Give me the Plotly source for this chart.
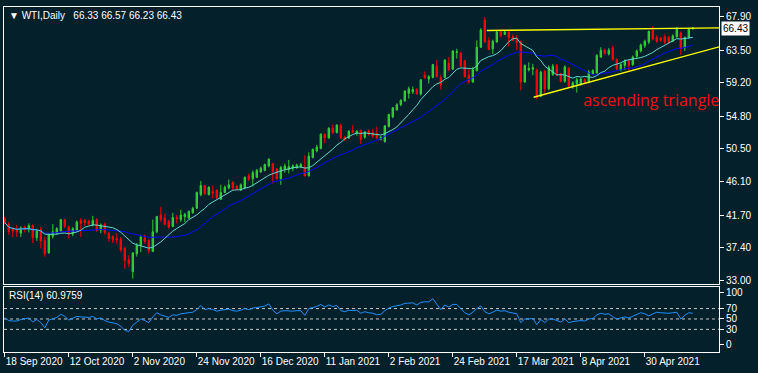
import plotly.graph_objects as go
import pandas as pd

# ---------------- data ----------------
tick_labels = ["18 Sep 2020", "12 Oct 2020", "2 Nov 2020", "24 Nov 2020", "16 Dec 2020",
               "11 Jan 2021", "2 Feb 2021", "24 Feb 2021", "17 Mar 2021", "8 Apr 2021",
               "30 Apr 2021"]
price_ticks = [67.90, 63.50, 59.20, 54.80, 50.50, 46.10, 41.70, 37.40, 33.00]
rsi_ticks = [100, 70, 50, 30, 0]
rsi_levels = [70, 50, 30]

opens = [41.2,40.5,39.8,39.7,39.3,40.1,39.8,40.3,38.7,39.8,
         38.3,36.7,38.9,39.3,39.6,41.1,40.1,39.2,39.7,41.0,
         41.0,40.9,40.4,41.1,39.7,40.5,39.3,38.9,38.6,38.5,
         37.3,35.8,34.2,36.6,37.7,38.7,38.3,36.9,39.5,41.7,
         41.3,40.9,40.2,41.4,41.1,41.5,41.3,42.0,42.6,44.4,
         45.6,44.4,44.8,45.0,43.8,44.7,45.3,46.0,45.5,45.0,
         45.3,46.9,46.5,46.7,47.4,47.6,48.2,48.5,47.8,46.5,
         47.8,47.7,47.9,48.0,48.1,48.0,46.9,49.3,50.2,50.5,
         52.4,51.9,53.2,52.6,53.6,52.0,51.9,52.9,52.5,52.9,
         52.0,52.8,52.6,52.5,51.7,51.4,53.4,54.7,55.6,56.3,
         56.8,57.8,58.0,58.3,57.7,60.2,59.7,59.9,61.4,59.9,
         59.9,61.8,61.0,63.2,63.1,62.1,60.2,59.3,60.8,63.9,
         67.5,64.8,63.7,64.6,65.9,65.6,65.9,65.3,65.1,64.6,
         59.3,60.9,61.0,60.9,57.4,60.7,58.4,60.3,61.5,60.4,
         59.4,61.1,58.7,59.1,59.0,59.6,59.3,60.4,60.5,62.6,
         63.5,63.0,63.8,62.3,60.9,61.5,62.1,61.6,62.7,63.4,
         64.1,64.6,66.1,65.2,65.1,65.3,65.2,64.7,65.3,65.8,
         63.8,65.2,66.33]
highs = [41.5,40.8,40.1,40.4,40.2,40.3,40.6,40.5,39.9,40.1,
         38.8,39.3,40.5,40.1,41.2,41.2,40.3,40.1,41.0,41.3,
         41.2,41.1,41.6,41.3,40.6,40.7,39.5,39.0,39.3,38.8,
         37.5,36.4,36.8,38.0,39.1,39.1,38.5,41.1,41.6,42.8,
         41.9,41.1,42.0,41.7,42.4,42.0,42.3,42.8,44.8,46.2,
         45.7,45.5,45.6,45.1,45.7,45.6,46.4,46.2,45.7,45.9,
         46.8,47.2,47.6,47.8,48.1,48.5,49.2,48.6,47.9,48.2,
         48.5,49.0,48.4,48.5,48.6,49.6,50.0,50.5,51.0,52.5,
         52.5,53.3,53.7,53.7,53.8,52.2,52.9,53.6,52.9,53.0,
         52.8,53.0,53.1,53.4,52.2,53.6,55.1,56.0,56.5,57.0,
         58.2,58.7,58.7,58.5,59.7,60.7,60.2,61.7,62.2,60.2,
         62.3,62.6,63.5,63.7,63.3,62.2,61.0,61.3,64.8,66.4,
         67.9,65.2,64.9,66.1,66.2,66.1,66.1,65.6,65.5,64.8,
         61.6,61.9,61.7,61.1,60.8,60.9,61.5,61.7,61.7,60.5,
         61.5,61.3,59.4,59.9,59.8,59.8,60.9,61.0,63.0,63.9,
         63.7,63.8,64.1,62.4,61.8,62.3,62.3,62.8,63.6,64.4,
         64.9,66.1,66.7,65.5,65.3,65.6,65.4,65.6,66.6,66.0,
         65.3,66.4,66.57]
lows = [40.5,39.1,38.8,38.8,38.8,39.4,39.4,38.0,38.3,37.3,
        36.2,36.6,38.6,39.1,39.5,40.0,38.6,38.9,39.5,38.8,
        40.3,40.3,40.2,39.5,39.3,39.1,38.2,38.0,37.9,36.8,
        34.6,34.8,33.3,36.2,36.8,37.9,36.6,36.8,39.3,40.8,
        40.4,39.9,40.1,40.6,40.8,40.8,41.2,41.9,42.5,44.2,
        44.4,44.3,43.9,43.8,43.7,44.6,45.1,44.9,45.0,44.9,
        45.1,46.2,45.5,46.6,47.3,47.5,48.0,45.9,46.4,45.7,
        47.3,47.2,47.5,47.8,47.9,46.8,46.8,49.2,50.0,50.4,
        51.2,51.8,52.4,52.5,51.8,51.5,51.8,52.5,52.2,51.1,
        51.8,52.2,51.9,51.8,51.6,51.3,53.3,54.5,55.5,56.1,
        56.7,57.1,57.7,57.6,57.5,59.7,59.1,59.8,59.9,58.3,
        59.8,60.7,60.9,62.4,61.3,59.9,59.1,59.2,60.7,63.8,
        64.5,63.5,63.0,64.5,65.2,65.5,64.0,64.7,63.5,58.2,
        59.2,60.7,60.2,57.0,57.3,57.9,58.2,60.1,60.1,59.2,
        59.2,58.5,58.4,57.9,58.8,59.0,59.1,60.2,60.4,62.5,
        62.9,62.8,62.1,60.8,60.7,60.9,60.6,61.4,62.5,63.2,
        63.8,64.3,64.8,64.5,64.6,64.3,64.4,64.6,65.1,62.9,
        63.4,65.0,66.23]
closes = [40.7,39.5,39.6,39.5,40.0,39.8,40.3,38.7,39.6,38.3,
          36.6,39.1,39.5,39.9,41.1,40.2,39.2,39.9,40.8,40.6,
          40.7,40.6,41.0,39.7,40.4,39.4,38.6,38.4,38.4,37.1,
          35.7,35.3,36.7,37.7,38.8,38.2,37.0,39.5,41.5,41.1,
          40.5,40.1,41.4,41.2,41.7,41.8,42.2,42.6,44.7,45.6,
          44.5,45.4,44.6,44.0,44.7,45.4,45.7,45.3,45.2,45.7,
          46.7,46.4,47.3,47.6,47.9,48.4,49.1,47.5,46.5,48.0,
          48.2,48.1,48.2,48.3,48.4,46.9,49.5,50.4,50.7,52.4,
          51.9,53.2,52.6,53.6,51.9,51.7,52.8,52.7,52.8,51.7,
          52.7,52.4,52.2,51.9,52.0,53.5,55.0,55.9,56.3,56.9,
          58.1,58.4,58.3,57.7,59.6,59.9,60.0,61.6,60.0,58.9,
          62.2,60.9,63.4,63.3,61.4,60.0,59.3,60.9,63.9,66.2,
          64.6,63.6,64.7,65.9,65.4,65.9,65.2,64.8,64.5,59.3,
          61.5,61.1,61.2,57.3,60.6,58.4,61.2,61.4,60.5,59.4,
          61.3,58.8,59.2,59.6,59.7,59.2,60.6,60.8,62.8,63.5,
          63.1,63.5,62.3,61.0,61.6,62.1,61.5,62.6,63.4,64.2,
          64.7,66.0,65.0,64.7,64.8,64.6,64.6,65.4,66.3,63.7,
          65.2,66.3,66.43]
rsi = [52,47,46,46,49,50,52,44,49,43,
       33,48,50,53,59,55,48,51,55,54,
       54,53,55,50,52,47,44,42,41,36,
       28,26,38,44,50,47,43,54,62,58,
       55,53,58,57,60,61,62,63,68,76,
       68,70,68,65,67,68,69,66,65,67,
       70,68,71,72,73,75,79,67,60,65,
       66,65,65,66,66,57,70,72,74,78,
       73,77,74,76,66,64,67,66,67,61,
       64,62,61,58,59,66,71,74,75,77,
       80,80,81,77,82,83,83,89,79,68,
       77,73,78,78,70,62,58,63,70,75,
       64,60,63,67,65,66,63,62,60,43,
       50,50,51,39,49,43,50,50,47,44,
       50,43,45,46,47,46,50,51,58,61,
       59,60,54,50,52,54,52,55,58,62,
       60,56,60,63,62,61,61,62,63,50,
       57,62,60.9759]

# drawn trendlines (bar index, price)
upper_line_x = [120.5, 178.8]
upper_line_y = [66.12, 66.46]
lower_line_x = [132.2, 178.8]
lower_line_y = [57.28, 63.98]
label_x = [144.6]
label_y = [56.65]
label_text = ["ascending triangle"]

header_text = "\u25BC WTI,Daily\u00a0\u00a0 66.33 66.57 66.23 66.43"
rsi_text = "RSI(14) 60.9759"
last_price = closes[-1]

# ---------------- figure ----------------
BG = "#03202b"
FONT = "Liberation Sans"
idx = list(range(len(closes)))
ma_fast = pd.Series(closes).rolling(10, min_periods=1).mean()
ma_slow = pd.Series(closes).rolling(20, min_periods=1).mean()

fig = go.Figure()
fig.add_trace(go.Candlestick(
    x=idx, open=opens, high=highs, low=lows, close=closes,
    increasing=dict(line=dict(color="#32cd32", width=1), fillcolor="#32cd32"),
    decreasing=dict(line=dict(color="#ff0000", width=1), fillcolor="#ff0000"),
    whiskerwidth=0, xaxis="x", yaxis="y", hoverinfo="skip"))
fig.add_trace(go.Scatter(x=idx, y=ma_slow, mode="lines", line=dict(color="#0a0aff", width=1),
                         xaxis="x", yaxis="y", hoverinfo="skip"))
fig.add_trace(go.Scatter(x=idx, y=ma_fast, mode="lines", line=dict(color="#5fd9cf", width=1),
                         xaxis="x", yaxis="y", hoverinfo="skip"))
fig.add_trace(go.Scatter(x=upper_line_x, y=upper_line_y, mode="lines",
                         line=dict(color="#ffff00", width=1.4), cliponaxis=True,
                         xaxis="x", yaxis="y", hoverinfo="skip"))
fig.add_trace(go.Scatter(x=lower_line_x, y=lower_line_y, mode="lines",
                         line=dict(color="#ffff00", width=1.4), cliponaxis=True,
                         xaxis="x", yaxis="y", hoverinfo="skip"))
fig.add_trace(go.Scatter(x=label_x, y=label_y, mode="text", text=label_text,
                         textposition="middle right", cliponaxis=True,
                         textfont=dict(family="Open Sans", size=16, color="#f01010"),
                         xaxis="x", yaxis="y", hoverinfo="skip"))
fig.add_trace(go.Scatter(x=idx, y=rsi, mode="lines", line=dict(color="#1e90ff", width=1),
                         xaxis="x2", yaxis="y2", hoverinfo="skip"))

xr = [-0.2, 178.55]
axis_common = dict(showgrid=False, zeroline=False, showline=True, mirror=True,
                   linecolor="white", linewidth=1, tickcolor="white", automargin=False,
                   tickfont=dict(family=FONT, size=10, color="white"))

shapes = [dict(type="line", xref="paper", x0=0, x1=1, yref="y2", y0=lv, y1=lv,
               line=dict(color="#c8c8c8", width=1, dash="3px,3px"), layer="below")
          for lv in rsi_levels]

fig.update_layout(
    width=758, height=373, margin=dict(l=4, r=39, t=7, b=21, autoexpand=False),
    paper_bgcolor=BG, plot_bgcolor=BG, showlegend=False, boxgap=0.5,
    xaxis=dict(domain=[0, 1], range=xr, anchor="y", showticklabels=False, ticks="",
               rangeslider=dict(visible=False), **axis_common),
    yaxis=dict(domain=[0.197, 1], range=[32.58, 69.22], anchor="x", side="right",
               tickvals=price_ticks, ticktext=[f"{v:.2f}" for v in price_ticks],
               ticks="outside", ticklen=4, **axis_common),
    xaxis2=dict(domain=[0, 1], range=xr, matches="x", anchor="y2",
                tickvals=[16 * k for k in range(len(tick_labels))], ticktext=tick_labels,
                ticks="outside", ticklen=4, ticklabelposition="outside right",
                tickangle=0, **axis_common),
    yaxis2=dict(domain=[0, 0.1884], range=[-13.5, 111.5], anchor="x2", side="right",
                tickvals=rsi_ticks, ticktext=[str(v) for v in rsi_ticks],
                ticks="outside", ticklen=4, **axis_common),
    shapes=shapes,
    annotations=[
        dict(xref="paper", yref="paper", x=0, y=1, xanchor="left", yanchor="top",
             xshift=3, yshift=-1, text=header_text, showarrow=False,
             font=dict(family=FONT, size=10, color="white")),
        dict(xref="paper", yref="y2 domain", x=0, y=1, xanchor="left", yanchor="top",
             xshift=3, yshift=-1, text=rsi_text, showarrow=False,
             font=dict(family=FONT, size=10, color="white")),
        dict(xref="paper", yref="y", x=1, y=last_price, xanchor="left", yanchor="middle",
             xshift=2, text=f"{last_price:.2f}", showarrow=False, bgcolor="white",
             borderpad=1, font=dict(family=FONT, size=10, color="black")),
    ],
)

fig.write_html("out.html", config={"displayModeBar": False},
               post_script="document.body.style.margin='0';"
                           "document.body.style.background='" + BG + "';")
